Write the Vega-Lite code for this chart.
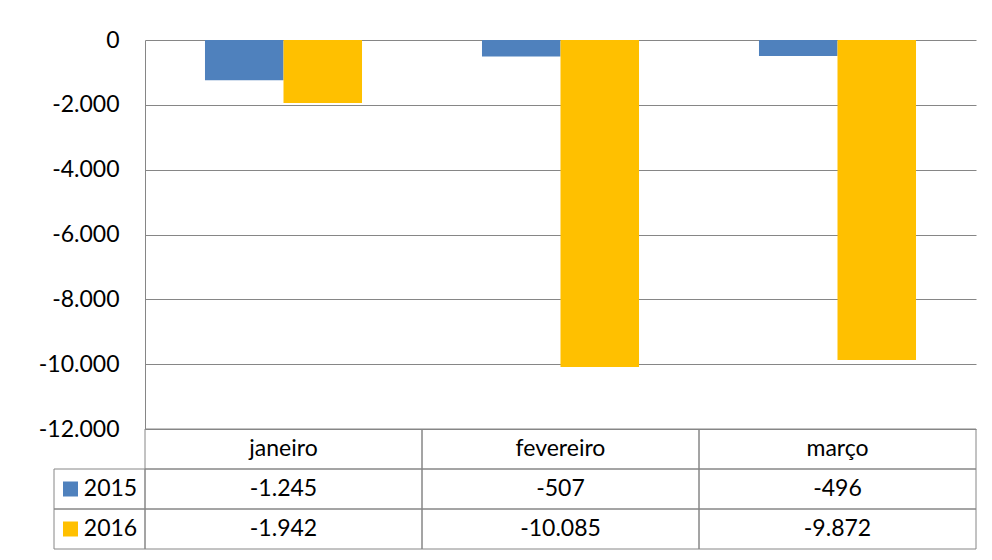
{
  "$schema": "https://vega.github.io/schema/vega-lite/v6.json",
  "autosize": {"type": "pad"},
  "padding": {"left": 38, "top": 29, "right": 10, "bottom": 5},
  "background": "white",
  "data": {"values": [
    {"month": "janeiro", "year": "2015", "value": -1245},
    {"month": "janeiro", "year": "2016", "value": -1942},
    {"month": "fevereiro", "year": "2015", "value": -507},
    {"month": "fevereiro", "year": "2016", "value": -10085},
    {"month": "março", "year": "2015", "value": -496},
    {"month": "março", "year": "2016", "value": -9872}
  ]},
  "columns": 2,
  "spacing": 0,
  "bounds": "flush",
  "resolve": {"scale": {"x": "independent", "y": "independent", "color": "shared"}},
  "concat": [
    {
      "width": 91,
      "height": 389,
      "data": {"values": []},
      "mark": {"type": "point", "opacity": 0}
    },
    {
      "width": 831,
      "height": 389,
      "mark": {"type": "bar"},
      "encoding": {
        "x": {"field": "month", "type": "nominal", "sort": ["janeiro", "fevereiro", "março"], "scale": {"paddingInner": 0, "paddingOuter": 0}, "axis": null},
        "xOffset": {"field": "year", "type": "nominal", "scale": {"paddingInner": 0, "paddingOuter": 0.764}},
        "y": {"field": "value", "type": "quantitative", "scale": {"domain": [-12000, 0], "nice": false},
          "axis": {"values": [0, -2000, -4000, -6000, -8000, -10000, -12000], "format": ",.0f", "title": null, "grid": true, "gridColor": "#868686", "domainColor": "#868686", "ticks": false, "labelPadding": 26}},
        "color": {"field": "year", "type": "nominal", "scale": {"domain": ["2015", "2016"], "range": ["#4F81BD", "#FFC000"]}, "legend": null}
      }
    },
    {
      "width": 91,
      "height": 120,
      "transform": [{"filter": {"field": "month", "equal": "janeiro"}}],
      "encoding": {
        "y": {"field": "year", "type": "nominal", "scale": {"domain": ["header", "2015", "2016"], "paddingInner": 0, "paddingOuter": 0}, "axis": null}
      },
      "layer": [
        {"mark": {"type": "rect", "fill": "transparent", "stroke": "#868686", "strokeWidth": 1}},
        {"mark": {"type": "point", "shape": "square", "filled": true, "size": 225, "opacity": 1, "xOffset": -29},
          "encoding": {"color": {"field": "year", "type": "nominal", "legend": null}}},
        {"mark": {"type": "text", "xOffset": 11, "font": "Lato", "fontSize": 23, "color": "black", "baseline": "middle"},
          "encoding": {"text": {"field": "year"}}}
      ]
    },
    {
      "width": 831,
      "height": 120,
      "encoding": {
        "x": {"field": "month", "type": "nominal", "sort": ["janeiro", "fevereiro", "março"], "scale": {"paddingInner": 0, "paddingOuter": 0}, "axis": null}
      },
      "layer": [
        {"mark": {"type": "rect", "fill": "transparent", "stroke": "#868686", "strokeWidth": 1},
          "encoding": {"y": {"field": "year", "type": "nominal", "scale": {"domain": ["header", "2015", "2016"], "paddingInner": 0, "paddingOuter": 0}, "axis": null}}},
        {"transform": [{"filter": {"field": "year", "equal": "2015"}}],
          "mark": {"type": "rect", "fill": "transparent", "stroke": "#868686", "strokeWidth": 1},
          "encoding": {"y": {"datum": "header", "type": "nominal"}}},
        {"transform": [{"filter": {"field": "year", "equal": "2015"}}],
          "mark": {"type": "text", "font": "Lato", "fontSize": 23, "color": "black", "baseline": "middle"},
          "encoding": {"y": {"datum": "header", "type": "nominal"}, "text": {"field": "month"}}},
        {"mark": {"type": "text", "font": "Lato", "fontSize": 23, "color": "black", "baseline": "middle"},
          "encoding": {"y": {"field": "year", "type": "nominal"}, "text": {"field": "value", "type": "quantitative", "format": ",.0f"}}}
      ]
    }
  ],
  "config": {
    "view": {"stroke": null},
    "locale": {"number": {"decimal": ",", "thousands": ".", "grouping": [3], "currency": ["", ""], "minus": "-"}},
    "axis": {"labelFont": "Lato", "labelFontSize": 23, "labelColor": "black"},
    "text": {"font": "Lato"}
  }
}
